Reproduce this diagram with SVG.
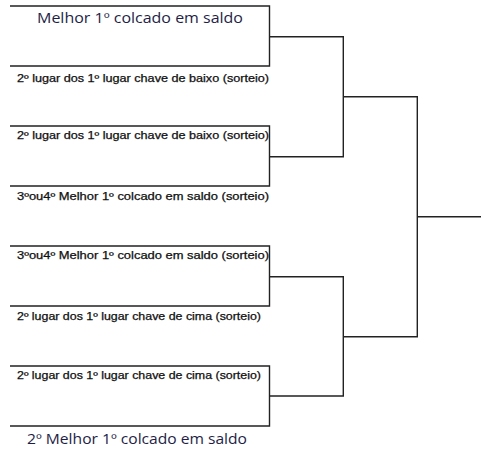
<svg xmlns="http://www.w3.org/2000/svg" width="481" height="450" viewBox="0 0 481 450">
<style>
.ln{fill:none;stroke:#222;stroke-width:1.4}
.big{font-family:"Open Sans","Liberation Sans",sans-serif;font-size:14px;fill:#1e1e46}
.sm{font-family:"Liberation Sans",Arial,sans-serif;font-size:10px;fill:#111;stroke:#111;stroke-width:0.25}
</style>
<rect width="481" height="450" fill="#fff"/>
<g id="match1">
<path class="ln" d="M10,6 H269.5 V66 H10"/>
<text class="big" x="37" y="23" textLength="206" lengthAdjust="spacingAndGlyphs">Melhor 1º colcado em saldo</text>
<text class="sm" x="17" y="82" textLength="252" lengthAdjust="spacingAndGlyphs">2º lugar dos 1º lugar chave de baixo (sorteio)</text>
</g>
<g id="match2">
<path class="ln" d="M10,126 H269.5 V186 H10"/>
<text class="sm" x="17" y="139" textLength="252" lengthAdjust="spacingAndGlyphs">2º lugar dos 1º lugar chave de baixo (sorteio)</text>
<text class="sm" x="17" y="200" textLength="252" lengthAdjust="spacingAndGlyphs">3ºou4º Melhor 1º colcado em saldo (sorteio)</text>
</g>
<g id="match3">
<path class="ln" d="M10,246 H269.5 V306 H10"/>
<text class="sm" x="17" y="259" textLength="252" lengthAdjust="spacingAndGlyphs">3ºou4º Melhor 1º colcado em saldo (sorteio)</text>
<text class="sm" x="17" y="320" textLength="244" lengthAdjust="spacingAndGlyphs">2º lugar dos 1º lugar chave de cima (sorteio)</text>
</g>
<g id="match4">
<path class="ln" d="M10,366 H269.5 V426 H10"/>
<text class="sm" x="17" y="379" textLength="244" lengthAdjust="spacingAndGlyphs">2º lugar dos 1º lugar chave de cima (sorteio)</text>
<text class="big" x="27" y="444" textLength="220" lengthAdjust="spacingAndGlyphs">2º Melhor 1º colcado em saldo</text>
</g>
<g id="connectors">
<path class="ln" d="M269.5,36.7 H343.3 V156.7 H269.5"/>
<path class="ln" d="M269.5,276.7 H343.3 V396 H269.5"/>
<path class="ln" d="M343.3,96.7 H417.3 V336.7 H343.3"/>
<path class="ln" d="M417.3,216.7 H481"/>
</g>
</svg>
